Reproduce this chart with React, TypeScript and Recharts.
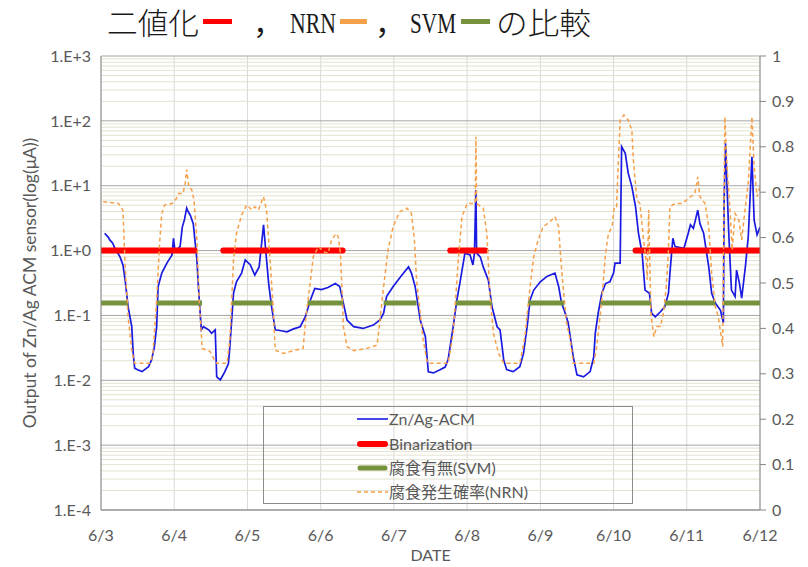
import { ComposedChart, Line, XAxis, YAxis, CartesianGrid, ReferenceLine, Legend, Label } from "recharts"

// x values are days after 6/3
const dayTicks = [0, 1, 2, 3, 4, 5, 6, 7, 8, 9]
const dayLabels = ["6/3", "6/4", "6/5", "6/6", "6/7", "6/8", "6/9", "6/10", "6/11", "6/12"]
const logTicks = [1e-4, 1e-3, 1e-2, 1e-1, 1, 10, 100, 1000]
const logLabels = ["1.E-4", "1.E-3", "1.E-2", "1.E-1", "1.E+0", "1.E+1", "1.E+2", "1.E+3"]
const probTicks = [0, 0.1, 0.2, 0.3, 0.4, 0.5, 0.6, 0.7, 0.8, 0.9, 1]

// Zn/Ag-ACM output (uA)
const acmT = [0.05, 0.1, 0.12, 0.16, 0.19, 0.26, 0.3, 0.33, 0.37, 0.42, 0.44, 0.46, 0.5, 0.56, 0.65, 0.69, 0.73, 0.76, 0.78, 0.83, 0.9, 0.97, 0.99, 1.01, 1.03, 1.08, 1.11, 1.14, 1.17, 1.19, 1.22, 1.26, 1.31, 1.33, 1.37, 1.4, 1.47, 1.51, 1.56, 1.58, 1.63, 1.69, 1.74, 1.76, 1.81, 1.85, 1.92, 1.97, 2.04, 2.1, 2.16, 2.22, 2.25, 2.29, 2.33, 2.38, 2.46, 2.54, 2.63, 2.72, 2.79, 2.86, 2.92, 3.01, 3.1, 3.2, 3.26, 3.31, 3.36, 3.45, 3.58, 3.72, 3.81, 3.86, 3.9, 3.99, 4.11, 4.2, 4.24, 4.29, 4.36, 4.43, 4.47, 4.54, 4.63, 4.7, 4.74, 4.81, 4.86, 4.9, 4.97, 5.04, 5.08, 5.1, 5.12, 5.13, 5.18, 5.22, 5.29, 5.34, 5.41, 5.45, 5.5, 5.54, 5.63, 5.72, 5.77, 5.82, 5.86, 5.91, 6.0, 6.09, 6.2, 6.25, 6.29, 6.34, 6.38, 6.45, 6.5, 6.59, 6.68, 6.73, 6.75, 6.79, 6.84, 6.89, 6.95, 7.0, 7.02, 7.09, 7.11, 7.16, 7.2, 7.25, 7.3, 7.34, 7.39, 7.43, 7.49, 7.52, 7.57, 7.64, 7.7, 7.75, 7.77, 7.81, 7.84, 7.96, 8.02, 8.05, 8.09, 8.15, 8.18, 8.23, 8.3, 8.34, 8.39, 8.46, 8.5, 8.51, 8.53, 8.55, 8.57, 8.59, 8.61, 8.66, 8.68, 8.72, 8.75, 8.8, 8.84, 8.89, 8.92, 8.96, 9.0]
const acmV = [1.85, 1.6, 1.46, 1.3, 1.08, 0.8, 0.6, 0.35, 0.136, 0.067, 0.026, 0.0153, 0.0145, 0.0136, 0.0162, 0.0206, 0.033, 0.067, 0.277, 0.45, 0.64, 0.855, 1.55, 1.0, 1.02, 1.15, 2.3, 3.0, 4.5, 4.0, 3.5, 2.6, 0.72, 0.28, 0.06, 0.067, 0.06, 0.053, 0.06, 0.0113, 0.0101, 0.0135, 0.018, 0.033, 0.22, 0.33, 0.45, 0.72, 0.6, 0.42, 0.56, 2.5, 1.0, 0.31, 0.136, 0.06, 0.058, 0.056, 0.062, 0.067, 0.095, 0.173, 0.26, 0.25, 0.27, 0.31, 0.28, 0.155, 0.085, 0.067, 0.063, 0.071, 0.085, 0.108, 0.195, 0.28, 0.42, 0.56, 0.45, 0.28, 0.085, 0.047, 0.0135, 0.013, 0.0145, 0.016, 0.0206, 0.067, 0.173, 0.31, 0.91, 0.855, 0.6, 0.91, 8.6, 0.91, 0.8, 0.56, 0.35, 0.136, 0.067, 0.06, 0.0206, 0.0146, 0.0136, 0.0162, 0.026, 0.067, 0.173, 0.246, 0.33, 0.4, 0.45, 0.28, 0.155, 0.108, 0.077, 0.023, 0.0121, 0.0113, 0.0136, 0.023, 0.053, 0.108, 0.22, 0.31, 0.33, 0.45, 0.64, 0.64, 40, 31.6, 15.6, 9.7, 4.75, 1.85, 0.91, 0.246, 0.22, 0.108, 0.095, 0.114, 0.136, 0.22, 0.45, 1.55, 1.15, 1.08, 1.85, 2.5, 2.2, 4.2, 2.6, 1.85, 0.56, 0.22, 0.155, 0.12, 0.077, 6.0, 45, 10, 2.3, 0.72, 0.246, 0.195, 0.5, 0.31, 0.185, 0.56, 1.65, 28, 2.95, 1.75, 2.3]

// corrosion probability (NRN), right axis
const nrnT = [0.03, 0.24, 0.3, 0.33, 0.37, 0.42, 0.46, 0.67, 0.71, 0.76, 0.8, 0.83, 0.87, 0.97, 1.03, 1.06, 1.12, 1.15, 1.17, 1.2, 1.24, 1.27, 1.31, 1.34, 1.37, 1.38, 1.49, 1.55, 1.58, 1.72, 1.76, 1.81, 1.85, 1.92, 1.99, 2.06, 2.1, 2.15, 2.2, 2.22, 2.26, 2.3, 2.35, 2.38, 2.49, 2.63, 2.76, 2.8, 2.85, 2.9, 2.97, 3.04, 3.1, 3.15, 3.21, 3.24, 3.27, 3.29, 3.31, 3.36, 3.45, 3.63, 3.77, 3.8, 3.86, 3.92, 3.99, 4.08, 4.18, 4.24, 4.28, 4.31, 4.36, 4.4, 4.45, 4.47, 4.74, 4.81, 4.88, 4.93, 5.0, 5.09, 5.11, 5.12, 5.13, 5.22, 5.27, 5.31, 5.36, 5.43, 5.5, 5.72, 5.79, 5.86, 5.91, 5.97, 6.04, 6.13, 6.2, 6.25, 6.27, 6.31, 6.36, 6.41, 6.45, 6.73, 6.77, 6.84, 6.89, 6.93, 6.98, 7.01, 7.04, 7.09, 7.14, 7.2, 7.25, 7.27, 7.32, 7.36, 7.41, 7.45, 7.46, 7.48, 7.51, 7.55, 7.59, 7.64, 7.68, 7.72, 7.75, 7.77, 7.84, 7.93, 8.0, 8.05, 8.11, 8.15, 8.18, 8.25, 8.3, 8.34, 8.39, 8.43, 8.47, 8.49, 8.52, 8.55, 8.59, 8.62, 8.66, 8.71, 8.75, 8.8, 8.84, 8.89, 8.92, 8.96, 9.0]
const nrnV = [0.679, 0.675, 0.66, 0.536, 0.426, 0.352, 0.323, 0.323, 0.345, 0.463, 0.587, 0.653, 0.672, 0.675, 0.686, 0.697, 0.697, 0.72, 0.75, 0.712, 0.705, 0.683, 0.595, 0.463, 0.389, 0.356, 0.349, 0.33, 0.323, 0.323, 0.374, 0.551, 0.609, 0.65, 0.672, 0.661, 0.668, 0.661, 0.683, 0.69, 0.661, 0.573, 0.448, 0.352, 0.345, 0.351, 0.356, 0.426, 0.492, 0.558, 0.58, 0.569, 0.565, 0.595, 0.609, 0.602, 0.565, 0.492, 0.404, 0.36, 0.351, 0.356, 0.363, 0.404, 0.492, 0.573, 0.624, 0.657, 0.665, 0.653, 0.595, 0.507, 0.433, 0.374, 0.33, 0.323, 0.323, 0.389, 0.551, 0.646, 0.675, 0.675, 0.675, 0.822, 0.675, 0.665, 0.609, 0.477, 0.389, 0.345, 0.323, 0.323, 0.382, 0.492, 0.558, 0.595, 0.624, 0.635, 0.646, 0.624, 0.573, 0.492, 0.411, 0.374, 0.323, 0.323, 0.36, 0.463, 0.565, 0.609, 0.624, 0.668, 0.668, 0.859, 0.87, 0.859, 0.837, 0.771, 0.683, 0.675, 0.595, 0.543, 0.507, 0.661, 0.433, 0.382, 0.404, 0.404, 0.433, 0.492, 0.573, 0.668, 0.675, 0.675, 0.683, 0.69, 0.697, 0.734, 0.69, 0.675, 0.624, 0.521, 0.448, 0.426, 0.382, 0.36, 0.866, 0.756, 0.661, 0.573, 0.653, 0.639, 0.595, 0.668, 0.72, 0.866, 0.756, 0.69, 0.712]

// binarization segments (level 1 uA)
const binStart = [0, 1.67, 4.77, 7.3]
const binEnd = [1.28, 3.3, 5.25, 9.0]
const binLevel = 1
// SVM corrosion yes/no segments
const svmStart = [0, 0.76, 1.79, 2.82, 3.86, 4.84, 5.83, 6.82, 7.7, 8.49]
const svmEnd = [0.37, 1.38, 2.35, 3.31, 4.31, 5.34, 6.33, 7.51, 8.39, 9.0]
const svmLevel = 0.155

const legendItems = [
  { name: "Zn/Ag-ACM", color: "#1a1ae0", width: 1.6, dash: undefined, cap: "butt" },
  { name: "Binarization", color: "#ff0000", width: 6, dash: undefined, cap: "round" },
  { name: "腐食有無(SVM)", color: "#76923c", width: 5, dash: undefined, cap: "round" },
  { name: "腐食発生確率(NRN)", color: "#f5a04a", width: 1.5, dash: "4 3", cap: "butt" },
]

const font = "Lato, 'Noto Sans CJK JP', sans-serif"
const minorTicks: number[] = []
logTicks.slice(0, -1).forEach((d) => {
  for (let k = 2; k <= 9; k++) minorTicks.push(d * k)
})

const acmData = acmT.map((t, i) => ({ t, v: acmV[i] }))
const nrnData = nrnT.map((t, i) => ({ t, v: nrnV[i] }))

function segments(starts: number[], ends: number[], level: number) {
  const out: { t: number; v: number | null }[] = []
  starts.forEach((s, i) => {
    out.push({ t: s, v: level }, { t: ends[i], v: level })
    if (i < starts.length - 1) out.push({ t: (ends[i] + starts[i + 1]) / 2, v: null })
  })
  return out
}
const binData = segments(binStart, binEnd, binLevel)
const svmData = segments(svmStart, svmEnd, svmLevel)

function LegendBox() {
  return (
    <div style={{ width: 370, height: 98, border: "1px solid #8c8c8c", boxSizing: "border-box" }}>
      {legendItems.map((it) => (
        <div key={it.name} style={{ height: 24.4, display: "flex", alignItems: "center", paddingLeft: 93 }}>
          <svg width={31} height={10}>
            <line x1={it.cap === "round" ? 3 : 0} y1={5} x2={it.cap === "round" ? 28 : 31} y2={5}
              stroke={it.color} strokeWidth={it.width} strokeDasharray={it.dash} strokeLinecap={it.cap as any} />
          </svg>
          <span style={{ marginLeft: 1, fontFamily: font, fontSize: 16, color: "#595959", lineHeight: "20px" }}>{it.name}</span>
        </div>
      ))}
    </div>
  )
}

function Title() {
  const cjk = "'Noto Sans CJK JP', sans-serif"
  const serif = "'Liberation Serif', serif"
  return (
    <svg width={808} height={50} style={{ position: "absolute", left: 0, top: 0 }}>
      <text x={107} y={34} fontSize={30} fontFamily={cjk} fontWeight={300} fill="#1a1a1a" textLength={92} lengthAdjust="spacingAndGlyphs">二値化</text>
      <rect x={203} y={19} width={29} height={5} fill="#ff0000" />
      <text x={253} y={34} fontSize={30} fontFamily={cjk} fill="#1a1a1a">，</text>
      <text x={290} y={33} fontSize={29} fontFamily={serif} fill="#1a1a1a" textLength={46} lengthAdjust="spacingAndGlyphs">NRN</text>
      <rect x={340} y={19} width={27} height={5} fill="#f5a04a" />
      <text x={375} y={34} fontSize={30} fontFamily={cjk} fill="#1a1a1a">，</text>
      <text x={410} y={33} fontSize={29} fontFamily={serif} fill="#1a1a1a" textLength={46} lengthAdjust="spacingAndGlyphs">SVM</text>
      <rect x={461} y={19} width={29} height={5} fill="#76923c" />
      <text x={496} y={34} fontSize={30} fontFamily={cjk} fontWeight={300} fill="#1a1a1a" textLength={95} lengthAdjust="spacingAndGlyphs">の比較</text>
    </svg>
  )
}

export default function App() {
  return (
    <div style={{ position: "absolute", left: 0, top: 0, width: 808, height: 567, background: "#fff", overflow: "hidden" }}>
      <ComposedChart width={808} height={567} margin={{ top: 56, right: 8, bottom: 7, left: 26 }}>
        <CartesianGrid horizontal={false} stroke="#d9d9d9" />
        {minorTicks.map((v) => (
          <ReferenceLine key={"m" + v} y={v} yAxisId="left" stroke="#e4e2cf" strokeWidth={1} />
        ))}
        {logTicks.map((v) => (
          <ReferenceLine key={"M" + v} y={v} yAxisId="left" stroke="#a6a6a6" strokeWidth={1} />
        ))}
        <XAxis dataKey="t" type="number" domain={[0, 9]} ticks={dayTicks} height={50}
          tickFormatter={(d) => dayLabels[dayTicks.indexOf(d)]} axisLine={{ stroke: "#868686" }} tickLine={false}
          tickSize={0} tickMargin={20} tick={{ fill: "#595959", fontSize: 16, fontFamily: font }} allowDataOverflow>
          <Label value="DATE" position="insideBottom" offset={-1} fill="#595959" fontSize={16} fontFamily={font} />
        </XAxis>
        <YAxis yAxisId="left" scale="log" type="number" domain={[1e-4, 1e3]} ticks={logTicks} width={75}
          tickFormatter={(v) => logLabels[logTicks.findIndex((x) => Math.abs(x - v) / x < 1e-6)]}
          axisLine={{ stroke: "#868686" }} tickLine={false} tickSize={0} tickMargin={10}
          tick={{ fill: "#595959", fontSize: 16, fontFamily: font }} allowDataOverflow>
          <Label value="Output of Zn/Ag ACM sensor(log(μA))" angle={-90} position="insideLeft" offset={4}
            fill="#595959" fontSize={17.5} fontFamily={font} style={{ textAnchor: "middle" }} />
        </YAxis>
        <YAxis yAxisId="right" orientation="right" type="number" domain={[0, 1]} ticks={probTicks} width={40}
          axisLine={{ stroke: "#868686" }} tickLine={{ stroke: "#868686" }} tickSize={6} tickMargin={6}
          tick={{ fill: "#595959", fontSize: 16, fontFamily: font }} />
        <Line yAxisId="left" data={acmData} dataKey="v" stroke="#1a1ae0" strokeWidth={1.7} dot={false}
          isAnimationActive={false} type="linear" />
        <Line yAxisId="left" data={binData} dataKey="v" stroke="#ff0000" strokeWidth={6} strokeLinecap="round"
          dot={false} isAnimationActive={false} type="linear" />
        <Line yAxisId="left" data={svmData} dataKey="v" stroke="#76923c" strokeWidth={5} dot={false}
          isAnimationActive={false} type="linear" />
        <Line yAxisId="right" data={nrnData} dataKey="v" stroke="#f5a04a" strokeWidth={1.5} strokeDasharray="4 3"
          dot={false} isAnimationActive={false} type="linear" />
        <Legend layout="vertical" align="center" verticalAlign="middle" content={() => <LegendBox />}
          wrapperStyle={{ left: 263, top: 406, width: 370, height: 98 }} />
      </ComposedChart>
      <Title />
    </div>
  )
}
